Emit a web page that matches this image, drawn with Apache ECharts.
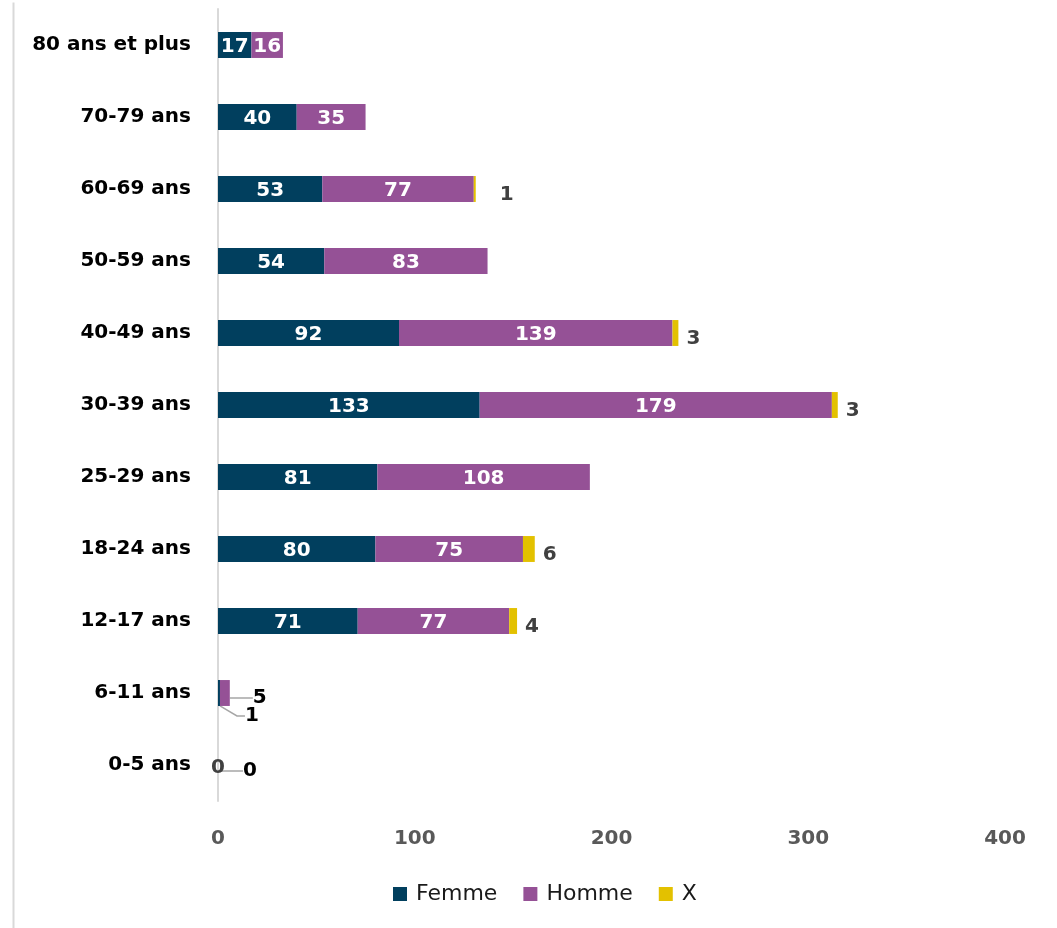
<!DOCTYPE html>
<html>
<head>
<meta charset="utf-8">
<script src="https://cdn.jsdelivr.net/npm/echarts@6/dist/echarts.min.js"></script>
<style>
  html, body { margin: 0; padding: 0; background: #fff; }
  #chart { width: 1057px; height: 928px; }
</style>
</head>
<body>
<div id="chart"></div>
<script>
// Age groups, top to bottom
const ageGroups = ['80 ans et plus', '70-79 ans', '60-69 ans', '50-59 ans', '40-49 ans',
  '30-39 ans', '25-29 ans', '18-24 ans', '12-17 ans', '6-11 ans', '0-5 ans'];
// Counts per gender (null = empty cell)
const femme = [17, 40, 53, 54, 92, 133, 81, 80, 71, 1, 0];
const homme = [16, 35, 77, 83, 139, 179, 108, 75, 77, 5, 0];
const genreX = [null, null, 1, null, 3, 3, null, 6, 4, null, 0];
const xTicks = [0, 100, 200, 300, 400];

const FONT = '"DejaVu Sans", Verdana, sans-serif';
const colors = { femme: '#013f5e', homme: '#955196', x: '#e3c100' };
const IDX_6_11 = ageGroups.indexOf('6-11 ans');
const IDX_0_5 = ageGroups.indexOf('0-5 ans');

const insideLabel = {
  show: true, position: 'inside', color: '#fff',
  fontFamily: FONT, fontWeight: 'bold', fontSize: 20,
  formatter: p => (p.value == null ? '' : String(p.value))
};
const guide = { show: true, length: 4, length2: 8, lineStyle: { color: '#a6a6a6', width: 1.5 } };

// Small bars get their labels pulled outside with a guide line
function femmeData() {
  return femme.map((v, i) => {
    if (i === IDX_6_11) return { value: v, label: { position: 'right', color: '#000' }, labelLine: guide };
    if (i === IDX_0_5) return { value: v, label: { show: false } };
    return v;
  });
}
function hommeData() {
  return homme.map((v, i) => {
    if (i === IDX_6_11 || i === IDX_0_5) {
      return { value: v, label: { position: 'right', color: '#000' }, labelLine: guide };
    }
    return v;
  });
}
function xData() {
  return genreX.map((v, i) => {
    if (i === IDX_0_5) return { value: v, label: { position: 'inside', offset: [0, 3] } };
    if (v === 1) return { value: v, label: { offset: [16, 6] } };
    return v;
  });
}

const chart = echarts.init(document.getElementById('chart'), null, { renderer: 'canvas' });
chart.setOption({
  animation: false,
  backgroundColor: '#fff',
  grid: { left: 218, right: 52, top: 9, bottom: 127, containLabel: false },
  legend: {
    top: 878, left: 388,
    itemWidth: 14, itemHeight: 14, itemGap: 26,
    icon: 'rect',
    textStyle: {
      fontFamily: FONT, fontSize: 22, color: '#1a1a1a', padding: [0, 0, 0, 4]
    },
    data: ['Femme', 'Homme', 'X']
  },
  xAxis: {
    type: 'value', min: 0, max: 400, interval: 100,
    axisLine: { show: false }, axisTick: { show: false }, splitLine: { show: false },
    axisLabel: {
      margin: 28, color: '#595959', fontFamily: FONT, fontWeight: 'bold', fontSize: 20,
      formatter: v => (xTicks.includes(v) ? String(v) : '')
    }
  },
  yAxis: {
    type: 'category', inverse: true, data: ageGroups,
    axisLine: { show: true, lineStyle: { color: '#d9d9d9', width: 2 } },
    axisTick: { show: false },
    axisLabel: { margin: 27, color: '#000', fontFamily: FONT, fontWeight: 'bold', fontSize: 20 }
  },
  series: [
    {
      name: 'Femme', type: 'bar', stack: 'total', barWidth: '36%',
      itemStyle: { color: colors.femme },
      label: insideLabel,
      labelLayout: p => (p.dataIndex === IDX_6_11 ? { dx: 20, dy: 23 } : { dy: 2 }),
      data: femmeData()
    },
    {
      name: 'Homme', type: 'bar', stack: 'total', barWidth: '36%',
      itemStyle: { color: colors.homme },
      label: insideLabel,
      labelLayout: p => {
        if (p.dataIndex === IDX_6_11) return { dx: 18, dy: 5 };
        if (p.dataIndex === IDX_0_5) return { dx: 20, dy: 6 };
        return { dy: 2 };
      },
      data: hommeData()
    },
    {
      name: 'X', type: 'bar', stack: 'total', barWidth: '36%',
      itemStyle: { color: colors.x },
      label: {
        show: true, position: 'right', distance: 8, offset: [0, 6], color: '#404040',
        fontFamily: FONT, fontWeight: 'bold', fontSize: 20,
        formatter: p => (p.value == null ? '' : String(p.value))
      },
      data: xData()
    }
  ],
  graphic: [{
    type: 'line', left: 11, top: 0,
    shape: { x1: 0, y1: 0, x2: 0, y2: 928 },
    style: { stroke: '#d9d9d9', lineWidth: 2 }
  }]
});
</script>
</body>
</html>
